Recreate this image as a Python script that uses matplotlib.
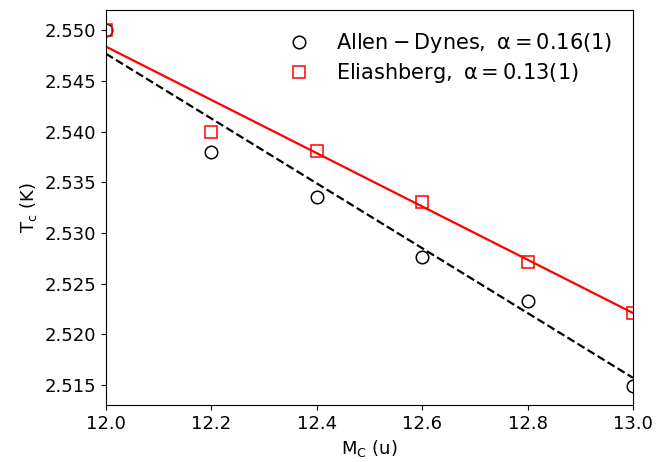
import matplotlib

matplotlib.use("Agg")
import matplotlib.pyplot as plt

# masses (u) et Tc (K)
mass = [12.0, 12.2, 12.4, 12.6, 12.8, 13.0]
tc_ad = [2.5500, 2.5380, 2.5336, 2.5276, 2.5233, 2.5149]
tc_el = [2.5500, 2.5400, 2.5381, 2.5331, 2.5271, 2.5221]

# droites d'ajustement (extrémités)
fit_x = [12.0, 13.0]
fit_ad = [2.5477, 2.5157]
fit_el = [2.5484, 2.5221]

fig, ax = plt.subplots(figsize=(6.58, 4.62), dpi=100)
fig.subplots_adjust(left=0.161, right=0.962, top=0.978, bottom=0.123)

ax.plot(fit_x, fit_ad, "k--", lw=1.6)
ax.plot(fit_x, fit_el, "-", color="red", lw=1.6)
ax.plot(mass, tc_ad, "o", ms=9, mfc="none", mec="black", mew=1.1,
        label=r"$\mathrm{Allen-Dynes,\ \alpha=0.16(1)}$")
ax.plot(mass, tc_el, "s", ms=9, mfc="none", mec="red", mew=1.1,
        label=r"$\mathrm{Eliashberg,\ \alpha=0.13(1)}$")

ax.set_xlim(12.0, 13.0)
ax.set_ylim(2.513, 2.552)
ax.set_xticks([12.0, 12.2, 12.4, 12.6, 12.8, 13.0])
ax.set_yticks([2.515, 2.520, 2.525, 2.530, 2.535, 2.540, 2.545, 2.550])
ax.set_yticklabels([f"{v:.3f}" for v in ax.get_yticks()])
ax.tick_params(labelsize=13)
ax.set_xlabel(r"M$_\mathrm{C}$ (u)", fontsize=13)
ax.set_ylabel(r"T$_\mathrm{c}$ (K)", fontsize=13)
ax.legend(loc="upper right", frameon=False, fontsize=15,
          borderaxespad=0.6, labelspacing=0.3)

fig.savefig("out.png", dpi=100)
